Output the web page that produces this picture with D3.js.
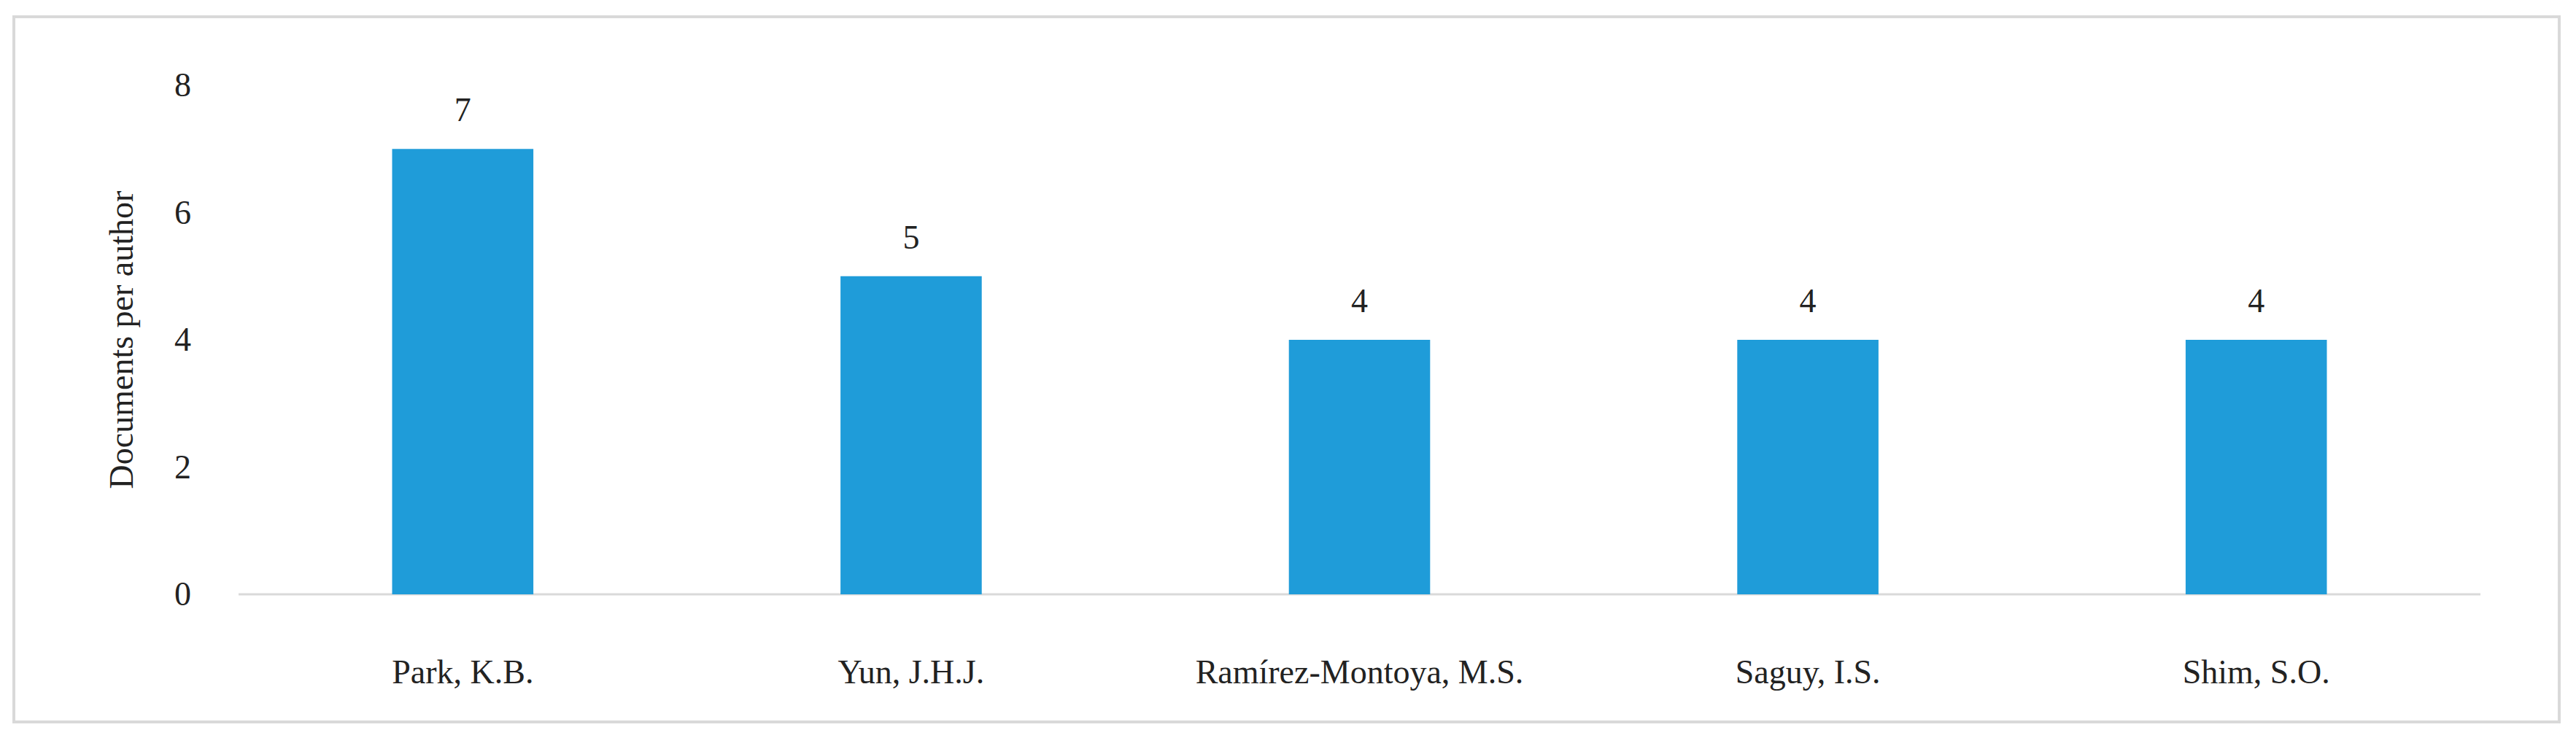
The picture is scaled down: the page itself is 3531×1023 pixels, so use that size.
<!DOCTYPE html>
<html><head><meta charset="utf-8">
<script src="https://cdn.jsdelivr.net/npm/d3@7"></script>
<style>body{margin:0;background:#fff}</style></head>
<body><svg id="c" width="3531" height="1023"></svg>
<script>
const categories=["Park, K.B.","Yun, J.H.J.","Ramírez-Montoya, M.S.","Saguy, I.S.","Shim, S.O."];
const values=[7,5,4,4,4];
const yTicks=[0,2,4,6,8];
const svg=d3.select("#c");
const font="'Liberation Serif', 'DejaVu Serif', serif";
svg.append("rect").attr("x",19).attr("y",23).attr("width",3489).attr("height",967)
  .attr("fill","#fff").attr("stroke","#d9d9d9").attr("stroke-width",4);
const x=d3.scaleBand().domain(categories).range([327,3400]).paddingInner(0.685).paddingOuter(0.3425);
const y=d3.scaleLinear().domain([0,8]).range([815,117]);
svg.append("line").attr("x1",327).attr("x2",3400).attr("y1",y(0)).attr("y2",y(0)).attr("stroke","#d9d9d9").attr("stroke-width",3);
svg.selectAll("rect.bar").data(values).join("rect").attr("class","bar")
  .attr("x",(d,i)=>x(categories[i])).attr("width",x.bandwidth())
  .attr("y",d=>y(d)).attr("height",d=>y(0)-y(d)).attr("fill","#1f9cd9");
svg.selectAll("text.v").data(values).join("text").attr("class","v")
  .attr("x",(d,i)=>x(categories[i])+x.bandwidth()/2).attr("y",d=>y(d)-38)
  .attr("text-anchor","middle").attr("font-family",font).attr("font-size",46).attr("fill","#222").text(d=>d);
svg.selectAll("text.yt").data(yTicks).join("text").attr("class","yt")
  .attr("x",262).attr("y",d=>y(d)+15).attr("text-anchor","end")
  .attr("font-family",font).attr("font-size",46).attr("fill","#222").text(d=>d);
svg.selectAll("text.xt").data(categories).join("text").attr("class","xt")
  .attr("x",d=>x(d)+x.bandwidth()/2).attr("y",937).attr("text-anchor","middle")
  .attr("font-family",font).attr("font-size",46).attr("fill","#222").text(d=>d);
svg.append("text").attr("transform","translate(182,466) rotate(-90)").attr("text-anchor","middle")
  .attr("font-family",font).attr("font-size",46).attr("fill","#222").text("Documents per author");
</script></body></html>
